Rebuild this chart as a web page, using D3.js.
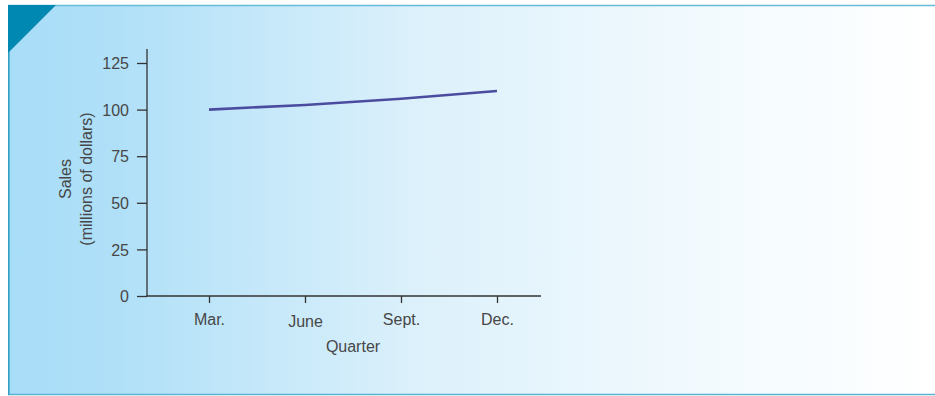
<!DOCTYPE html>
<html>
<head>
<meta charset="utf-8">
<script src="https://cdn.jsdelivr.net/npm/d3@7"></script>
<style>
  html, body { margin: 0; padding: 0; background: #ffffff; }
  svg { display: block; }
  text { font-family: "Liberation Sans", Arial, Helvetica, sans-serif; fill: #474747; }
</style>
</head>
<body>
<svg id="chart" width="935" height="396"></svg>
<script>
// Quarterly sales, millions of dollars
const quarters = ["Mar.", "June", "Sept.", "Dec."];
const sales = [100, 102.5, 105.8, 110];
const yTicks = [0, 25, 50, 75, 100, 125];

const svg = d3.select("#chart");
const fontSize = 16;

// Panel background: light blue fading to white
const defs = svg.append("defs");
const grad = defs.append("linearGradient")
  .attr("id", "panelFade").attr("x1", "0").attr("x2", "1").attr("y1", "0").attr("y2", "0");
grad.append("stop").attr("offset", "0").attr("stop-color", "#a8ddf8");
grad.append("stop").attr("offset", "0.12").attr("stop-color", "#b0e0f8");
grad.append("stop").attr("offset", "0.45").attr("stop-color", "#ddf1fb");
grad.append("stop").attr("offset", "0.75").attr("stop-color", "#f2fafe");
grad.append("stop").attr("offset", "1").attr("stop-color", "#ffffff");

svg.append("rect")
  .attr("x", 8).attr("y", 5).attr("width", 927).attr("height", 389)
  .attr("fill", "url(#panelFade)");

// Frame: top, bottom and left rules
svg.append("line").attr("x1", 8).attr("x2", 935).attr("y1", 5.5).attr("y2", 5.5)
  .attr("stroke", "#66bcd6").attr("stroke-width", 1.6);
svg.append("line").attr("x1", 8).attr("x2", 935).attr("y1", 394.5).attr("y2", 394.5)
  .attr("stroke", "#5ab2cf").attr("stroke-width", 1.6);
svg.append("line").attr("x1", 8.8).attr("x2", 8.8).attr("y1", 5).attr("y2", 395)
  .attr("stroke", "#2f9fc4").attr("stroke-width", 1.6);

// Corner tab
svg.append("path")
  .attr("d", "M8,5 L56,5 L8,53 Z")
  .attr("fill", "#0088b2");

// Scales
const x = d3.scalePoint().domain(quarters).range([209, 497]);
const y = d3.scaleLinear().domain([0, 125]).range([296, 63]);

const axisColor = "#333333";

// Y axis
const yAxis = svg.append("g").attr("transform", "translate(147,0)")
  .call(d3.axisLeft(y).tickValues(yTicks).tickSize(10).tickPadding(8));
yAxis.attr("font-size", null).attr("font-family", null);
yAxis.select(".domain").remove();
yAxis.append("line").attr("x1", 0).attr("x2", 0).attr("y1", 49).attr("y2", 296.5)
  .attr("stroke", axisColor).attr("stroke-width", 1.3);
yAxis.selectAll(".tick line").attr("stroke", axisColor).attr("stroke-width", 1.3);
yAxis.selectAll(".tick text")
  .attr("fill", null)
  .style("font-size", fontSize + "px")
  .attr("dy", "0.36em");

// X axis
const xAxis = svg.append("g").attr("transform", "translate(0,296)")
  .call(d3.axisBottom(x).tickSize(7).tickPadding(11));
xAxis.attr("font-size", null).attr("font-family", null);
xAxis.select(".domain").remove();
xAxis.append("line").attr("x1", 146.5).attr("x2", 541).attr("y1", 0).attr("y2", 0)
  .attr("stroke", axisColor).attr("stroke-width", 1.3);
xAxis.selectAll(".tick line").attr("stroke", axisColor).attr("stroke-width", 1.3);
xAxis.selectAll(".tick text")
  .attr("fill", null)
  .style("font-size", fontSize + "px")
  .attr("dy", d => d === "June" ? "0.82em" : "0.71em");

// Axis titles
svg.append("text")
  .attr("x", 353).attr("y", 352)
  .attr("text-anchor", "middle")
  .style("font-size", fontSize + "px")
  .text("Quarter");

const yTitle = svg.append("g").attr("transform", "translate(0,179) rotate(-90)");
yTitle.append("text")
  .attr("x", 0).attr("y", 70.5)
  .attr("text-anchor", "middle")
  .style("font-size", fontSize + "px")
  .text("Sales");
yTitle.append("text")
  .attr("x", 0).attr("y", 92)
  .attr("text-anchor", "middle")
  .style("font-size", fontSize + "px")
  .text("(millions of dollars)");

// Sales line
const line = d3.line()
  .x((d, i) => x(quarters[i]))
  .y(d => y(d))
  .curve(d3.curveMonotoneX);

svg.append("path")
  .datum(sales)
  .attr("d", line)
  .attr("fill", "none")
  .attr("stroke", "#4b4c9f")
  .attr("stroke-width", 2.6);
</script>
</body>
</html>
